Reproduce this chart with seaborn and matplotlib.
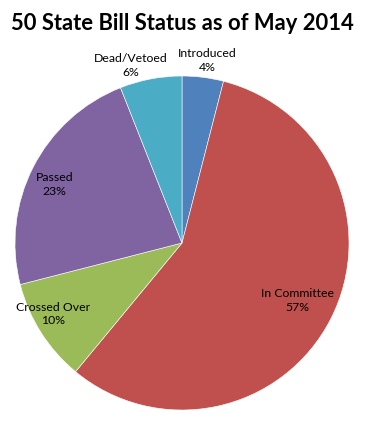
import numpy as np
import matplotlib
matplotlib.use("Agg")
import matplotlib.pyplot as plt
import seaborn as sns

categories = ["Introduced", "In Committee", "Crossed Over", "Passed", "Dead/Vetoed"]
values = [4, 57, 10, 23, 6]
colors = ["#4F81BD", "#C0504D", "#9BBB59", "#8064A2", "#4BACC6"]
label_dist = [1.11, 0.77, 0.88, 0.84, 1.11]
label_shift = [-0.5, 1.0, -4.0, 2.0, 5.2]  # degrees

sns.set_theme(style="white")
plt.rcParams["font.family"] = ["Lato", "DejaVu Sans"]

fig = plt.figure(figsize=(3.65, 4.31), dpi=100)
ax = fig.add_axes([15 / 365, 20 / 431, 334 / 365, 334 / 431])
wedges, _ = ax.pie(values, colors=colors, startangle=90, counterclock=False,
                   radius=1.0, wedgeprops=dict(edgecolor="white", linewidth=0.4))
ax.set_xlim(-1, 1)
ax.set_ylim(-1, 1)
ax.set_aspect("equal")
ax.axis("off")

total = sum(values)
for w, cat, v, d, s in zip(wedges, categories, values, label_dist, label_shift):
    ang = np.deg2rad((w.theta1 + w.theta2) / 2 + s)
    x, y = d * np.cos(ang), d * np.sin(ang)
    ax.text(x, y, f"{cat}\n{round(100 * v / total)}%", ha="center", va="center",
            fontsize=8.8, color="#000000", linespacing=1.3)

fig.text(0.5, 1 - 23 / 431, "50 State Bill Status as of May 2014", ha="center",
         va="center", fontsize=15.8, fontweight="bold", color="#000000")

fig.savefig("out.png", dpi=100)
